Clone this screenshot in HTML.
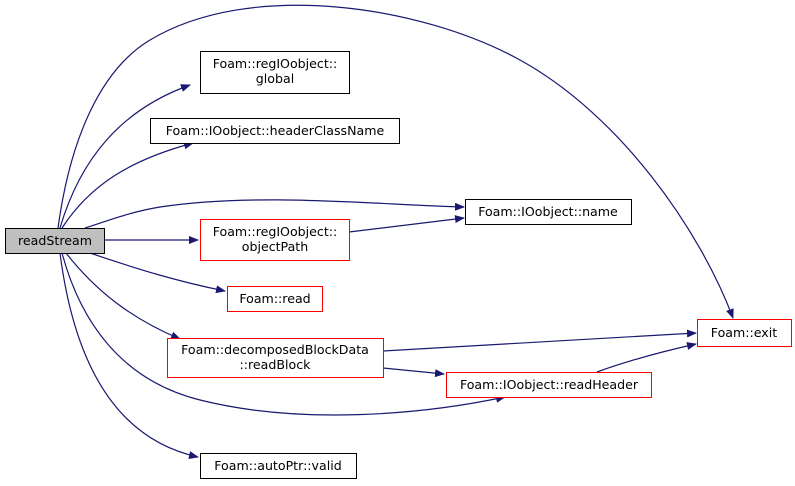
<!DOCTYPE html>
<html><head><style>body{margin:0;background:#fff}svg{display:block}text{font-family:"DejaVu Sans","Liberation Sans",sans-serif;font-size:12.6px;fill:#000}</style></head>
<body>
<svg width="795" height="486" viewBox="0 0 795 486" xmlns="http://www.w3.org/2000/svg">
<defs><marker id="a" markerWidth="10" markerHeight="8" refX="9" refY="4" orient="auto" markerUnits="userSpaceOnUse"><path d="M0,0 L10,4 L0,8 Z" fill="#191970"/></marker></defs>
<g fill="none" stroke="#191970" stroke-width="1.2">
<path d="M58,228 C70,140 100,70 150,40 C250,-20 420,5 520,60 C620,115 700,230 733,318" marker-end="url(#a)"/>
<path d="M60,228 C80,160 120,110 190,85" marker-end="url(#a)"/>
<path d="M62,228 C90,185 130,160 193,143" marker-end="url(#a)"/>
<path d="M85,228 C110,220 130,212 160,207 C260,192 380,205 464,207" marker-end="url(#a)"/>
<path d="M104,240 L198,240" marker-end="url(#a)"/>
<path d="M349,232 L464,218" marker-end="url(#a)"/>
<path d="M90,253 C140,270 180,282 225,291" marker-end="url(#a)"/>
<path d="M66,253 C95,290 130,318 180,339" marker-end="url(#a)"/>
<path d="M62,253 C80,320 120,380 200,400 C300,425 420,415 505,397" marker-end="url(#a)"/>
<path d="M60,253 C75,370 120,440 198,457" marker-end="url(#a)"/>
<path d="M383,351 L696,333" marker-end="url(#a)"/>
<path d="M383,368 L444,374" marker-end="url(#a)"/>
<path d="M597,372 C630,360 660,352 696,344" marker-end="url(#a)"/>
</g>
<g stroke-width="1" fill="#fff">
<rect x="5.5" y="228.5" width="99" height="25" fill="#bfbfbf" stroke="#000"/>
<rect x="200.5" y="51.5" width="149" height="42" stroke="#000"/>
<rect x="150.5" y="118.5" width="249" height="25" stroke="#000"/>
<rect x="465.5" y="199.5" width="166" height="25" stroke="#000"/>
<rect x="200.5" y="219.5" width="149" height="41" stroke="#f00"/>
<rect x="227.5" y="286.5" width="95" height="25" stroke="#f00"/>
<rect x="167.5" y="338.5" width="216" height="39" stroke="#f00"/>
<rect x="697.5" y="319.5" width="94" height="27" stroke="#f00"/>
<rect x="446.5" y="372.5" width="205" height="25" stroke="#f00"/>
<rect x="200.5" y="453.5" width="156" height="25" stroke="#000"/>
</g>
<g text-anchor="middle">
<text x="55" y="245">readStream</text>
<text x="275" y="68">Foam::regIOobject::</text><text x="275" y="83">global</text>
<text x="275" y="135">Foam::IOobject::headerClassName</text>
<text x="548" y="216">Foam::IOobject::name</text>
<text x="275" y="236">Foam::regIOobject::</text><text x="275" y="251">objectPath</text>
<text x="275" y="303">Foam::read</text>
<text x="275" y="354">Foam::decomposedBlockData</text><text x="275" y="369">::readBlock</text>
<text x="744" y="337">Foam::exit</text>
<text x="549" y="389">Foam::IOobject::readHeader</text>
<text x="278" y="470">Foam::autoPtr::valid</text>
</g>
</svg>
</body></html>
